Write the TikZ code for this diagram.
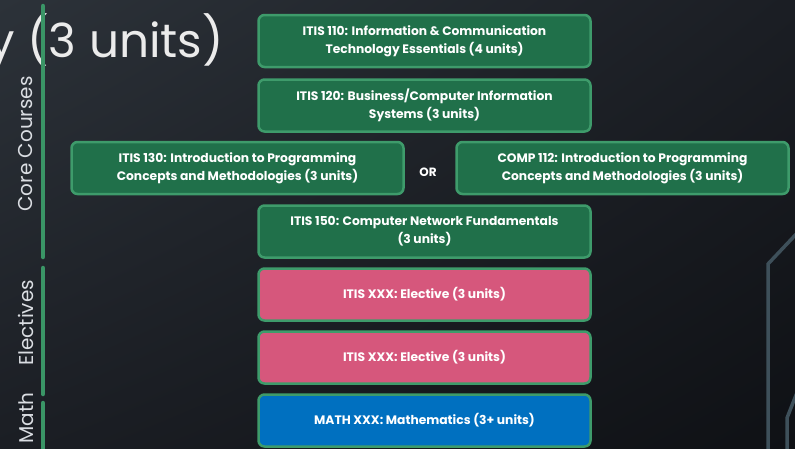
\documentclass[tikz,border=0pt]{standalone}
\usepackage{fontspec}
\setmainfont{Poppins}
\usetikzlibrary{shadings}
\definecolor{bgtl}{HTML}{2C3239}
\definecolor{bgbr}{HTML}{0F1115}
\definecolor{bgmid}{HTML}{1B1E24}
\definecolor{corefill}{HTML}{20704A}
\definecolor{crsborder}{HTML}{3E9B6B}
\definecolor{electfill}{HTML}{D6577C}
\definecolor{mathfill}{HTML}{0070C0}
\definecolor{barcol}{HTML}{3A9566}
\definecolor{decocol}{HTML}{3E505A}
\definecolor{sidetext}{HTML}{DADDE2}
\tikzset{
    course/.style={draw=crsborder, line width=2.5pt, rounded corners=6pt,
        text=white, font=\bfseries\fontsize{12.3}{18}\selectfont, align=center,
        minimum width=332pt, minimum height=52pt, inner sep=0pt},
    corebox/.style={course, fill=corefill},
    electbox/.style={course, fill=electfill},
    mathbox/.style={course, fill=mathfill},
    sidebar/.style={draw=barcol, line width=4.5pt, line cap=round},
    sidelabel/.style={rotate=90, text=sidetext, font=\fontsize{20}{22}\selectfont},
    deco/.style={draw=decocol, line width=3.5pt}
}

\begin{document}
\begin{tikzpicture}[x=1pt, y=-1pt]
    \useasboundingbox (0,0) rectangle (795,448);
    \clip (0,0) rectangle (795,448);
    \shade[upper left=bgtl, upper right=bgmid, lower left=bgmid, lower right=bgbr]
        (0,0) rectangle (795,448);

    % title left over from the slide
    \node (ttl) [anchor=base east, text=white!92!black, font=\fontsize{47}{50}\selectfont,
        inner sep=0pt] at (224, 57) {y (3 units)};

    % decoration on the right
    \draw[deco] (801,229) -- (768,264) -- (768,452);
    \draw[deco] (798,390) -- (787,418) -- (787,452);

    % side bars and their labels
    \coordinate (c1) at (43,6);
    \coordinate (c2) at (43,257);
    \coordinate (e1) at (43,268);
    \coordinate (e2) at (43,394);
    \coordinate (m1) at (43,403);
    \coordinate (m2) at (43,460);
    \draw[sidebar] (c1) -- (c2);
    \draw[sidebar] (e1) -- (e2);
    \draw[sidebar] (m1) -- (m2);
    \node (core) [sidelabel] at (26,144) {Core Courses};
    \node (elec) [sidelabel] at (26,323) {Electives};
    \node (math) [sidelabel] at (26,418) {Math};

    % courses
    \node (itis110) [corebox] at (424.5,41) {ITIS 110: Information \& Communication\\Technology Essentials (4 units)};
    \node (itis120) [corebox] at (424.5,105.5) {ITIS 120: Business/Computer Information\\Systems (3 units)};
    \node (itis130) [corebox] at (237.5,168) {ITIS 130: Introduction to Programming\\Concepts and Methodologies (3 units)};
    \node (or) [text=white, font=\bfseries\fontsize{12}{14}\selectfont] at (428,172) {OR};
    \node (comp112) [corebox] at (622.5,168) {COMP 112: Introduction to Programming\\Concepts and Methodologies (3 units)};
    \node (itis150) [corebox] at (424.5,231.5) {ITIS 150: Computer Network Fundamentals\\(3 units)};
    \node (elec1) [electbox] at (424.5,294.5) {ITIS XXX: Elective (3 units)};
    \node (elec2) [electbox] at (424.5,357.5) {ITIS XXX: Elective (3 units)};
    \node (mathxxx) [mathbox] at (424.5,420.5) {MATH XXX: Mathematics (3+ units)};
\end{tikzpicture}
\end{document}
